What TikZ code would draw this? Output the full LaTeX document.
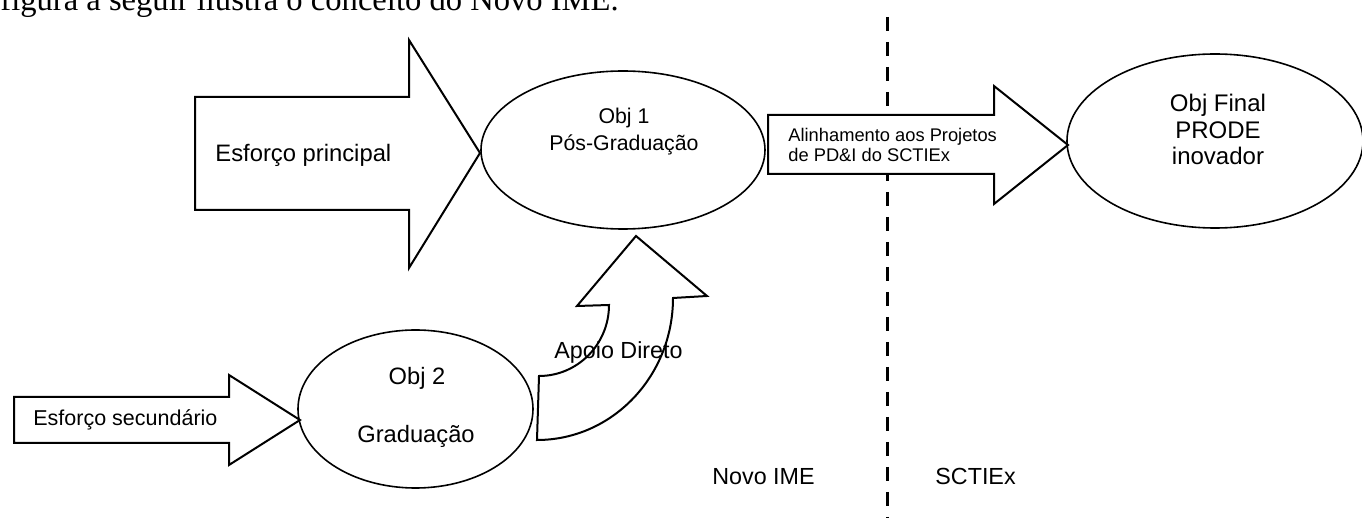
\documentclass[tikz,border=0pt]{standalone}
\usepackage{fontspec}
\setmainfont{Liberation Sans}
\newfontfamily\bodyserif{Liberation Serif}
\usetikzlibrary{shapes.geometric}
\tikzset{
  bigarrow/.style={draw, line width=1pt, fill=white, line join=miter},
  objell/.style={ellipse, draw, line width=0.8pt, inner sep=0pt},
  lbl/.style={inner sep=0pt, font=\fontsize{11.65}{14}\selectfont},
}

\begin{document}
\begin{tikzpicture}[x=0.5pt,y=-0.5pt]
\useasboundingbox (0,0) rectangle (1362,518);
\clip (0,0) rectangle (1362,518);
\node[anchor=base west, inner sep=0pt, font=\bodyserif\fontsize{16.3}{18}\selectfont] (intro) at (0,11) {figura a seguir ilustra o conceito do Novo IME.};
\draw[line width=1.5pt, dash pattern=on 7pt off 5.5pt] (887,17) -- (887,518);
\draw[bigarrow] (195,97) -- (409,97) -- (409,40) -- (480,153) -- (409,268) -- (409,210) -- (195,210) -- cycle;
\draw[bigarrow] (768,115) -- (994,115) -- (994,86) -- (1068,145) -- (994,204) -- (994,174) -- (768,174) -- cycle;
\draw[bigarrow] (14,397) -- (229,397) -- (229,375) -- (300,420) -- (229,465) -- (229,443) -- (14,443) -- cycle;
\draw[bigarrow] (537,440) -- (539,376) .. controls (577.7,376) and (609,344.2) .. (609,305) -- (577,306) -- (636,236) -- (707,296) -- (673,298) .. controls (673,376.4) and (612.1,440) .. (537,440) -- cycle;
\node[objell, minimum width=142pt, minimum height=79pt] (obj1) at (623,150) {};
\node[objell, minimum width=117.5pt, minimum height=79pt] (obj2) at (415.5,409) {};
\node[objell, minimum width=148pt, minimum height=87pt] (objfinal) at (1215,141) {};
\node[lbl, anchor=base west, font=\fontsize{11.9}{14}\selectfont] (principal) at (215,162) {Esforço principal};
\node[lbl, anchor=base west, font=\fontsize{10.75}{13}\selectfont] (secundario) at (33,426) {Esforço secundário};
\node[lbl, anchor=base west, font=\fontsize{9.15}{10}\selectfont] (alinhaA) at (788,142) {Alinhamento aos Projetos};
\node[lbl, anchor=base west, font=\fontsize{9.15}{10}\selectfont] (alinhaB) at (788,162) {de PD\&I do SCTIEx};
\node[lbl, anchor=base, font=\fontsize{10.65}{13}\selectfont] (obj1a) at (624,124) {Obj 1};
\node[lbl, anchor=base, font=\fontsize{10.65}{13}\selectfont] (obj1b) at (624,151) {Pós-Graduação};
\node[lbl, anchor=base, font=\fontsize{11.85}{14}\selectfont] (obj2a) at (417,385) {Obj 2};
\node[lbl, anchor=base, font=\fontsize{11.85}{14}\selectfont] (obj2b) at (416,443) {Graduação};
\node[lbl, anchor=base, font=\fontsize{12}{14}\selectfont] (finalA) at (1218,112) {Obj Final};
\node[lbl, anchor=base, font=\fontsize{12}{14}\selectfont] (finalB) at (1218,139) {PRODE};
\node[lbl, anchor=base, font=\fontsize{12}{14}\selectfont] (finalC) at (1218,165) {inovador};
\node[lbl, anchor=base west] (apoio) at (554,359) {Apoio Direto};
\node[lbl, anchor=base west] (novoime) at (712,485) {Novo IME};
\node[lbl, anchor=base west] (sctiex) at (935,485) {SCTIEx};
\end{tikzpicture}
\end{document}
